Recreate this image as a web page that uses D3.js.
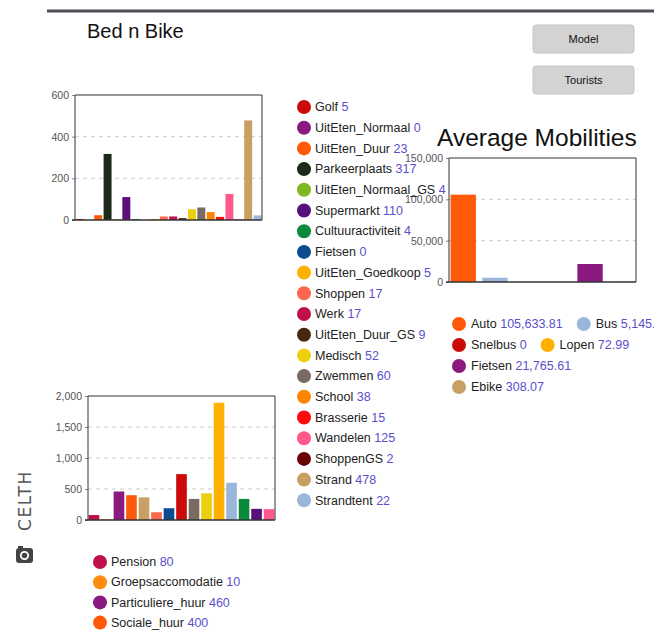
<!DOCTYPE html>
<html><head><meta charset="utf-8">
<script src="https://cdn.jsdelivr.net/npm/d3@7"></script>
<style>
html,body{margin:0;padding:0;background:#fff;overflow:hidden;}
svg{display:block;font-family:"Liberation Sans",Arial,sans-serif;}
</style></head>
<body>
<svg id="c" width="654" height="631"></svg>
<script>
// ---- data ----
const bnbCategories = ["Golf","UitEten_Normaal","UitEten_Duur","Parkeerplaats","UitEten_Normaal_GS","Supermarkt","Cultuuractiviteit","Fietsen","UitEten_Goedkoop","Shoppen","Werk","UitEten_Duur_GS","Medisch","Zwemmen","School","Brasserie","Wandelen","ShoppenGS","Strand","Strandtent"];
const bnbValues = [5,0,23,317,4,110,4,0,5,17,17,9,52,60,38,15,125,2,478,22];
const bnbColors = ["#cc0a0a","#8a1a80","#ff5a0a","#1c2a1a","#80b820","#58107a","#0a8a3a","#0e4a90","#ffb000","#ff6650","#c0104a","#4a2810","#ecd010","#7a6a62","#ff8400","#ff0a0a","#ff5a8c","#6a0404","#c9a063","#9ab6da"];
const bnbTicks = [0,200,400,600];

const accCategories = ["Pension","Groepsaccomodatie","Particuliere_huur","Sociale_huur","Hotel","Camping","Bungalowpark","Appartement","Jeugdherberg","Vakantiewoning","Kamperen","Chalet","Boerderij","Jachthaven","Overig"];
const accValues = [80,10,460,400,365,125,190,740,340,430,1890,600,340,180,175];
const accColors = ["#c0104a","#ff8c10","#8a1a80","#ff5a0a","#c9a063","#ff6650","#0e4a90","#cc0a0a","#7a6a62","#ecd010","#ffb000","#9ab6da","#0a8a3a","#58107a","#ff5a8c"];
const accTicks = [0,500,1000,1500,2000];

const mobCategories = ["Auto","Bus","Snelbus","Lopen","Fietsen","Ebike"];
const mobValues = [105633.81,5145.81,0,72.99,21765.61,308.07];
const mobColors = ["#ff5a0a","#9ab6da","#cc0a0a","#ffb000","#8a1a80","#c9a063"];
const mobTicks = [0,50000,100000,150000];

const svg = d3.select("#c");
const valColor = "#5a50cc";

svg.append("line").attr("x1",47).attr("x2",654).attr("y1",11).attr("y2",11)
  .attr("stroke","#4a4f55").attr("stroke-width",3);
svg.append("text").attr("x",87).attr("y",38).attr("font-size",20).attr("fill","#111").text("Bed n Bike");

[["Model",25],["Tourists",66]].forEach(([t,y])=>{
  svg.append("rect").attr("x",533).attr("y",y).attr("width",101).attr("height",28).attr("rx",3)
    .attr("fill","#d3d3d3").attr("stroke","#c4c4c4");
  svg.append("text").attr("x",583.5).attr("y",y+18).attr("text-anchor","middle").attr("font-size",11).attr("fill","#111").text(t);
});

svg.append("text").attr("transform","translate(31,531) rotate(-90)").attr("font-size",17)
  .attr("letter-spacing",1.6).attr("fill","#555").attr("font-family","'DejaVu Sans',sans-serif").text("CELTH");
svg.append("rect").attr("x",16).attr("y",548).attr("width",17).attr("height",15).attr("rx",3).attr("fill","#444");
svg.append("rect").attr("x",18).attr("y",546).attr("width",5).attr("height",3).attr("fill","#444");
svg.append("circle").attr("cx",24.5).attr("cy",555.5).attr("r",3.7).attr("fill","none").attr("stroke","#fff").attr("stroke-width",1.8);

function barChart(o){
  const g = svg.append("g");
  const x = d3.scaleBand().domain(o.cats).range([o.x0,o.x1]).paddingInner(o.pi).paddingOuter(o.po);
  const y = d3.scaleLinear().domain([0,o.max]).range([o.y1,o.y0]);
  g.selectAll(".gr").data(o.ticks.filter(t=>t>0&&t<o.max)).enter().append("line")
    .attr("x1",o.x0).attr("x2",o.x1).attr("y1",d=>y(d)).attr("y2",d=>y(d))
    .attr("stroke","#ccc").attr("stroke-dasharray","4,4");
  const ax = d3.axisLeft(y).tickValues(o.ticks).tickSize(3).tickFormat(d3.format(","));
  const a = g.append("g").attr("transform",`translate(${o.x0},0)`).call(ax);
  a.select(".domain").remove();
  a.selectAll("line").attr("stroke","#888");
  a.selectAll("text").attr("font-size",10.5).attr("fill","#555").attr("font-family","'Liberation Sans',Arial,sans-serif");
  g.selectAll(".b").data(o.vals).enter().append("rect")
    .attr("x",(d,i)=>x(o.cats[i])).attr("width",x.bandwidth())
    .attr("y",d=>y(d)).attr("height",d=>o.y1-y(d)).attr("fill",(d,i)=>o.cols[i]);
  g.append("path").attr("d",`M${o.x0},${o.y1}V${o.y0}H${o.x1}V${o.y1}`).attr("fill","none").attr("stroke","#333").attr("stroke-width",1);
  g.append("line").attr("x1",o.x0-3).attr("x2",o.x1).attr("y1",o.y1).attr("y2",o.y1).attr("stroke","#333").attr("stroke-width",1.5);
}

barChart({cats:bnbCategories,vals:bnbValues,cols:bnbColors,ticks:bnbTicks,max:600,x0:75,x1:262,y0:95,y1:220,pi:0.15,po:0.05});
barChart({cats:accCategories,vals:accValues,cols:accColors,ticks:accTicks,max:2000,x0:88,x1:275,y0:396,y1:520,pi:0.15,po:0.05});
barChart({cats:mobCategories,vals:mobValues,cols:mobColors,ticks:mobTicks,max:150000,x0:449,x1:636,y0:158,y1:282,pi:0.2,po:0.05});

svg.append("text").attr("x",437).attr("y",146).attr("font-size",24.5).attr("fill","#111").text("Average Mobilities");

function fmt(v){ return Number.isInteger(v) ? d3.format(",")(v) : d3.format(",.2f")(v); }

function vlegend(cats,vals,cols,cx,y0,dy){
  cats.forEach((c,i)=>{
    const y = y0+i*dy;
    svg.append("circle").attr("cx",cx).attr("cy",y).attr("r",7).attr("fill",cols[i]);
    const t = svg.append("text").attr("x",cx+11).attr("y",y+4.2).attr("font-size",12.5).attr("fill","#222");
    t.append("tspan").text(c+" ");
    t.append("tspan").attr("fill",valColor).text(fmt(vals[i]));
  });
}
vlegend(bnbCategories,bnbValues,bnbColors,304,107,20.7);
vlegend(accCategories,accValues,accColors,100,562,20.2);

(function(){
  const x0 = 459, maxW = 212, dy = 21;
  let cx = x0, y = 324;
  mobCategories.forEach((c,i)=>{
    const t = svg.append("text").attr("font-size",12.5).attr("fill","#222");
    t.append("tspan").text(c+" ");
    t.append("tspan").attr("fill",valColor).text(fmt(mobValues[i]));
    const w = t.node().getComputedTextLength();
    const itemW = 13 + w;
    if (cx !== x0 && cx - x0 + itemW > maxW) { cx = x0; y += dy; }
    svg.append("circle").attr("cx",cx).attr("cy",y).attr("r",7).attr("fill",mobColors[i]);
    t.attr("x",cx+12).attr("y",y+4.2);
    cx += itemW + 20;
  });
})();
</script>
</body></html>
